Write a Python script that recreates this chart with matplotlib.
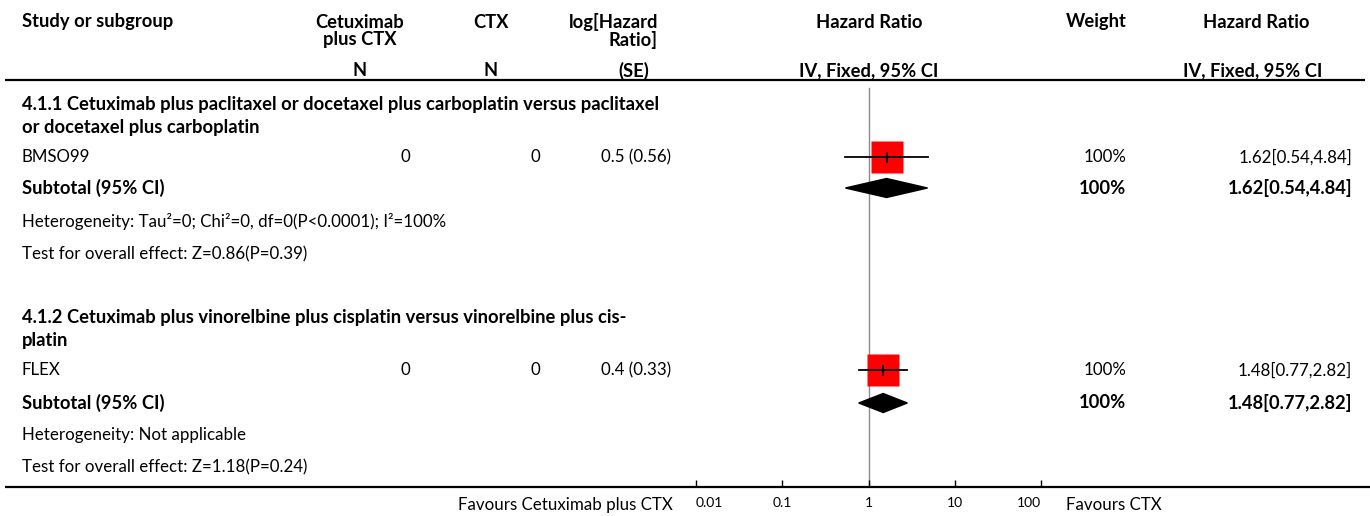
import matplotlib
matplotlib.use("Agg")
import numpy as np
import matplotlib.pyplot as plt
from matplotlib.patches import Polygon

plt.rcParams["font.family"] = ["Lato", "DejaVu Sans"]

# ---- data ----
studies = ["BMSO99", "FLEX"]
subgroups = ["4.1.1 Cetuximab plus paclitaxel or docetaxel plus carboplatin versus paclitaxel\nor docetaxel plus carboplatin",
             "4.1.2 Cetuximab plus vinorelbine plus cisplatin versus vinorelbine plus cis-\nplatin"]
n_cetux = [0, 0]
n_ctx = [0, 0]
log_hr = [0.5, 0.4]
log_se = [0.56, 0.33]
hr = [1.62, 1.48]
ci_lo = [0.54, 0.77]
ci_hi = [4.84, 2.82]
weights = ["100%", "100%"]
sub_hr = [1.62, 1.48]
sub_lo = [0.54, 0.77]
sub_hi = [4.84, 2.82]
heterogeneity = ["Heterogeneity: Tau\u00b2=0; Chi\u00b2=0, df=0(P<0.0001); I\u00b2=100%",
                 "Heterogeneity: Not applicable"]
overall = ["Test for overall effect: Z=0.86(P=0.39)", "Test for overall effect: Z=1.18(P=0.24)"]
ticks = [0.01, 0.1, 1, 10, 100]
tick_labels = ["0.01", "0.1", "1", "10", "100"]
favours_left = "Favours Cetuximab plus CTX"
favours_right = "Favours CTX"

W, H = 1370, 516
fig = plt.figure(figsize=(W / 100, H / 100), dpi=100)
ax = fig.add_axes([0, 0, 1, 1]); ax.set_xlim(0, W); ax.set_ylim(H, 0); ax.axis("off")

bold = dict(fontsize=13.2, fontweight="bold")
norm = dict(fontsize=12.2)

# header
ax.text(22, 22, "Study or subgroup", ha="left", va="center", **bold)
ax.text(360, 31, "Cetuximab\nplus CTX", ha="center", va="center", linespacing=1.0, **bold)
ax.text(360, 71, "N", ha="center", va="center", **bold)
ax.text(491, 22, "CTX", ha="center", va="center", **bold)
ax.text(491, 71, "N", ha="center", va="center", **bold)
ax.text(658, 31, "log[Hazard\nRatio]", ha="right", va="center", multialignment="right", linespacing=1.0, **bold)
ax.text(634, 71, "(SE)", ha="center", va="center", **bold)
ax.text(869, 22, "Hazard Ratio", ha="center", va="center", **bold)
ax.text(869, 71, "IV, Fixed, 95% CI", ha="center", va="center", **bold)
ax.text(1096, 22, "Weight", ha="center", va="center", **bold)
ax.text(1256, 22, "Hazard Ratio", ha="center", va="center", **bold)
ax.text(1322, 71, "IV, Fixed, 95% CI", ha="right", va="center", **bold)
ax.plot([5, 1365], [80, 80], color="black", lw=1.6, solid_capstyle="butt")
ax.plot([5, 1370], [487, 487], color="black", lw=1.6, solid_capstyle="butt")

# forest axes: x log scale, y in pixel rows
x0, x1 = 696, 1041
y_top, y_bot = 80, 487
fax = fig.add_axes([x0 / W, (H - y_bot) / H, (x1 - x0) / W, (y_bot - y_top) / H])
fax.set_xscale("log"); fax.set_xlim(ticks[0], ticks[-1]); fax.set_ylim(y_bot, y_top)
fax.patch.set_alpha(0)
for s in fax.spines.values():
    s.set_visible(False)
fax.set_yticks([])
fax.set_xticks(ticks)
fax.set_xticklabels(tick_labels, fontsize=10)
fax.xaxis.set_minor_locator(matplotlib.ticker.NullLocator())
fax.tick_params(axis="x", direction="in", length=5, width=1, pad=7)
lbls = fax.get_xticklabels()
lbls[0].set_ha("left"); lbls[-1].set_ha("right")
fax.axvline(1, ymin=0, ymax=(y_bot - 88) / (y_bot - y_top), color="#8c8c8c", lw=1, zorder=1)

row_title = [105, 318]
row_study = [157, 370]
row_sub = [188, 403]
row_het = [221, 435]
row_ovr = [254, 467]

for i in range(2):
    ax.text(22, row_title[i] + 11, subgroups[i], ha="left", va="center", linespacing=1.38, **bold)
    y = row_study[i]
    ax.text(22, y, studies[i], ha="left", va="center", **norm)
    ax.text(410, y, str(n_cetux[i]), ha="right", va="center", **norm)
    ax.text(540, y, str(n_ctx[i]), ha="right", va="center", **norm)
    ax.text(671, y, f"{log_hr[i]} ({log_se[i]})", ha="right", va="center", **norm)
    ax.text(1126, y, weights[i], ha="right", va="center", **norm)
    ax.text(1352, y, f"{hr[i]:.2f}[{ci_lo[i]:.2f},{ci_hi[i]:.2f}]", ha="right", va="center", **norm)
    # study marker
    fax.plot([hr[i]], [y], marker="s", ms=22.5, mec="none", color="#ff0000", zorder=2)
    fax.plot([ci_lo[i], ci_hi[i]], [y, y], color="black", lw=1.3, zorder=3)
    fax.plot([hr[i], hr[i]], [y - 4.5, y + 4.5], color="black", lw=1.3, zorder=3)

    ys = row_sub[i]
    ax.text(22, ys, "Subtotal (95% CI)", ha="left", va="center", **bold)
    ax.text(1126, ys, weights[i], ha="right", va="center", **bold)
    ax.text(1352, ys, f"{sub_hr[i]:.2f}[{sub_lo[i]:.2f},{sub_hi[i]:.2f}]", ha="right", va="center", **bold)
    fax.add_patch(Polygon([(sub_lo[i], ys), (sub_hr[i], ys - 9.5), (sub_hi[i], ys), (sub_hr[i], ys + 9.5)],
                          closed=True, color="black", zorder=3))

    ax.text(22, row_het[i], heterogeneity[i], ha="left", va="center", **norm)
    ax.text(22, row_ovr[i], overall[i], ha="left", va="center", **norm)

ax.text(673, 505, favours_left, ha="right", va="center", **norm)
ax.text(1066, 505, favours_right, ha="left", va="center", **norm)

fig.savefig("out.png", dpi=100)
